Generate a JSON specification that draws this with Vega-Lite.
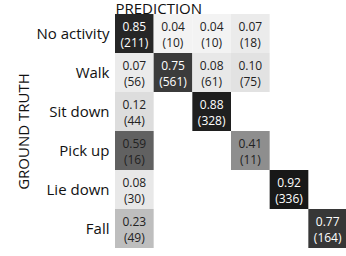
{
  "$schema": "https://vega.github.io/schema/vega-lite/v6.json",
  "autosize": {"type": "none"},
  "padding": {"left": 115, "top": 14, "right": 0, "bottom": 8},
  "width": 232,
  "height": 234,
  "background": "white",
  "config": {"view": {"stroke": null}, "font": "Open Sans"},
  "data": {
    "values": [
      {"truth": "No activity", "pred": "No activity", "v": 0.85, "n": 211},
      {"truth": "No activity", "pred": "Walk", "v": 0.04, "n": 10},
      {"truth": "No activity", "pred": "Sit down", "v": 0.04, "n": 10},
      {"truth": "No activity", "pred": "Pick up", "v": 0.07, "n": 18},
      {"truth": "Walk", "pred": "No activity", "v": 0.07, "n": 56},
      {"truth": "Walk", "pred": "Walk", "v": 0.75, "n": 561},
      {"truth": "Walk", "pred": "Sit down", "v": 0.08, "n": 61},
      {"truth": "Walk", "pred": "Pick up", "v": 0.10, "n": 75},
      {"truth": "Sit down", "pred": "No activity", "v": 0.12, "n": 44},
      {"truth": "Sit down", "pred": "Sit down", "v": 0.88, "n": 328},
      {"truth": "Pick up", "pred": "No activity", "v": 0.59, "n": 16},
      {"truth": "Pick up", "pred": "Pick up", "v": 0.41, "n": 11},
      {"truth": "Lie down", "pred": "No activity", "v": 0.08, "n": 30},
      {"truth": "Lie down", "pred": "Lie down", "v": 0.92, "n": 336},
      {"truth": "Fall", "pred": "No activity", "v": 0.23, "n": 49},
      {"truth": "Fall", "pred": "Fall", "v": 0.77, "n": 164}
    ]
  },
  "transform": [{"calculate": "'(' + datum.n + ')'", "as": "nlabel"}],
  "encoding": {
    "x": {
      "field": "pred", "type": "nominal",
      "sort": ["No activity", "Walk", "Sit down", "Pick up", "Lie down", "Fall"],
      "scale": {"domain": ["No activity", "Walk", "Sit down", "Pick up", "Lie down", "Fall"], "paddingInner": 0, "paddingOuter": 0},
      "axis": {
        "orient": "top", "title": "PREDICTION", "labels": false, "ticks": false, "domain": false,
        "titleFontSize": 15, "titleFontWeight": "normal", "titleColor": "#111",
        "titleX": 0, "titleY": -1, "titleAlign": "left", "titleBaseline": "alphabetic", "titleAnchor": "start"
      }
    },
    "y": {
      "field": "truth", "type": "nominal",
      "scale": {"domain": ["No activity", "Walk", "Sit down", "Pick up", "Lie down", "Fall"], "paddingInner": 0, "paddingOuter": 0},
      "axis": {
        "title": "GROUND TRUTH", "ticks": false, "domain": false, "labelPadding": 6,
        "labelFontSize": 15, "labelColor": "#111",
        "titleFontSize": 15, "titleFontWeight": "normal", "titleColor": "#111",
        "titleAngle": -90, "titleX": -92, "titleY": 117, "titleAlign": "center", "titleBaseline": "middle"
      }
    }
  },
  "layer": [
    {
      "mark": {"type": "rect"},
      "encoding": {
        "color": {"field": "v", "type": "quantitative", "scale": {"domain": [0, 1], "range": ["#ffffff", "#000000"]}, "legend": null}
      }
    },
    {
      "mark": {"type": "text", "fontSize": 12, "dy": -7, "baseline": "middle"},
      "encoding": {
        "text": {"field": "v", "type": "quantitative", "format": ".2f"},
        "color": {"condition": {"test": "datum.v > 0.6", "value": "#ffffff"}, "value": "#222222"}
      }
    },
    {
      "mark": {"type": "text", "fontSize": 12, "dy": 9, "baseline": "middle"},
      "encoding": {
        "text": {"field": "nlabel", "type": "nominal"},
        "color": {"condition": {"test": "datum.v > 0.6", "value": "#ffffff"}, "value": "#222222"}
      }
    }
  ]
}
